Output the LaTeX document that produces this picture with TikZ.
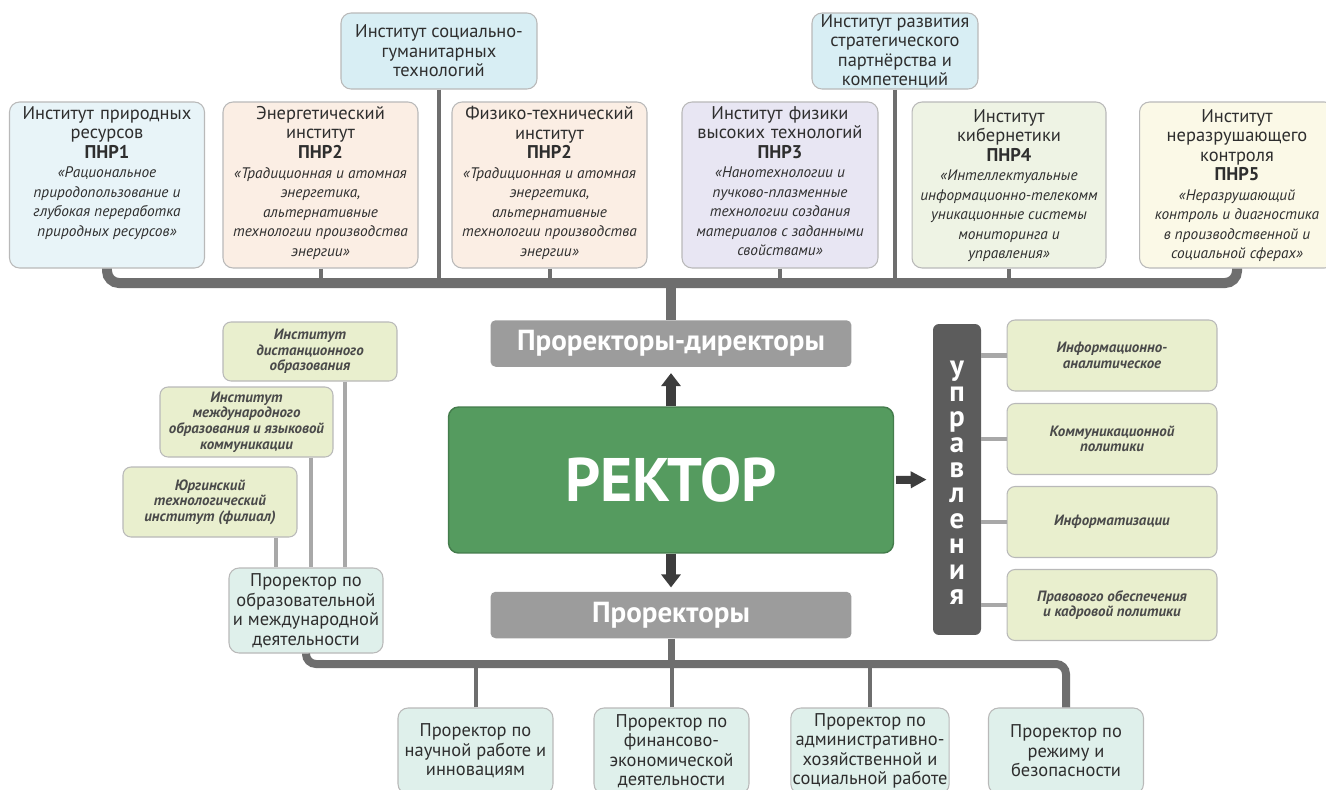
\documentclass[tikz,border=0pt]{standalone}
\usepackage{fontspec}
\setmainfont{PT Sans}
\usetikzlibrary{arrows.meta}

\definecolor{busgray}{HTML}{6E6E6E}
\definecolor{lngray}{HTML}{A8A8A8}
\definecolor{arrgray}{HTML}{3D3D3D}
\definecolor{boxline}{HTML}{B9B9B9}
\definecolor{prgray}{HTML}{9C9C9C}
\definecolor{uprgray}{HTML}{5C5C5C}
\definecolor{rekgreen}{HTML}{559B5F}
\definecolor{fblue}{HTML}{E8F4F8}
\definecolor{fsky}{HTML}{D8EEF4}
\definecolor{fpeach}{HTML}{FBEEE4}
\definecolor{flav}{HTML}{E8E6F3}
\definecolor{fgreen}{HTML}{EEF3E4}
\definecolor{fcream}{HTML}{FBF9E7}
\definecolor{folive}{HTML}{E9EFCE}
\definecolor{fmint}{HTML}{DFF0EB}
\definecolor{txtgray}{HTML}{2E2E2E}
\definecolor{ittgray}{HTML}{4A4A4A}

\newcommand{\ttlfont}{\fontsize{10.5}{11.1}\selectfont}
\newcommand{\thmfont}{\fontsize{8.7}{11.1}\selectfont\itshape\spaceskip=0.27em\relax}
\newcommand{\subfont}{\fontsize{8.5}{8.9}\selectfont\bfseries\itshape}
\newcommand{\grpfont}{\fontsize{16.5}{18}\selectfont\bfseries}

\begin{document}
\begin{tikzpicture}[x=0.02cm, y=-0.02cm,
    box/.style={draw=boxline, line width=0.6pt, rounded corners=0.2cm,
                inner sep=1pt, align=center},
    inst/.style={box, minimum width=3.9cm, minimum height=3.32cm},
    itxt/.style={anchor=north, inner sep=0pt, align=center, text width=3.85cm,
                 text=txtgray, font=\ttlfont},
    subbox/.style={box, fill=folive, rounded corners=0.16cm, text=ittgray,
                   font=\subfont},
    vpbox/.style={box, fill=fmint, minimum width=3.1cm, minimum height=1.72cm,
                  text=txtgray, font=\ttlfont},
    grp/.style={fill=prgray, rounded corners=0.1cm, minimum width=7.22cm,
                minimum height=0.93cm, text=white, font=\grpfont},
    rek/.style={fill=rekgreen, draw=rekgreen!80!black, line width=0.8pt,
                rounded corners=0.2cm, minimum width=8.9cm, minimum height=2.92cm,
                text=white, font=\fontsize{35}{38}\selectfont\bfseries},
    ulet/.style={text=white, inner sep=0pt, align=center,
                 font=\fontsize{16.5}{14.5}\selectfont\bfseries},
    bus/.style={draw=busgray, line width=0.2cm, rounded corners=0.24cm},
    tline/.style={draw=busgray, line width=0.08cm},
    lline/.style={draw=lngray, line width=0.09cm},
    arr/.style={draw=arrgray, line width=0.2cm,
                -{Triangle[width=0.38cm,length=0.26cm]}}]

  \clip (0,0) rectangle (1326,789);
  \fill[white] (0,0) rectangle (1326,789);

  % institutes
  \node[inst, fill=fblue] (b1) at (107,185) {};
  \node[inst, fill=fpeach] (b2) at (320.5,185) {};
  \node[inst, fill=fpeach] (b3) at (549.5,185) {};
  \node[inst, fill=flav, minimum width=3.92cm] (b4) at (780,185) {};
  \node[inst, fill=fgreen, minimum width=3.88cm] (b5) at (1009,185) {};
  \node[inst, fill=fcream] (b6) at (1237,185) {};

  \node[itxt] (t1) at (107,106) {Институт природных\\ресурсов\\\textbf{ПНР1}\\
    \thmfont «Рациональное\\природопользование и\\глубокая переработка\\природных ресурсов»};
  \node[itxt] (t2) at (320.5,106) {Энергетический\\институт\\\textbf{ПНР2}\\
    \thmfont «Традиционная и атомная\\энергетика,\\альтернативные\\технологии производства\\энергии»};
  \node[itxt] (t3) at (549.5,106) {Физико-технический\\институт\\\textbf{ПНР2}\\
    \thmfont «Традиционная и атомная\\энергетика,\\альтернативные\\технологии производства\\энергии»};
  \node[itxt] (t4) at (780,106) {Институт физики\\высоких технологий\\\textbf{ПНР3}\\
    \thmfont «Нанотехнологии и\\пучково-плазменные\\технологии создания\\материалов с заданными\\свойствами»};
  \node[itxt] (t5) at (1009,109) {Институт\\кибернетики\\\textbf{ПНР4}\\
    \thmfont «Интеллектуальные\\информационно-телекомм\\уникационные системы\\мониторинга и\\управления»};
  \node[itxt] (t6) at (1237,109) {Институт\\неразрушающего\\контроля\\\textbf{ПНР5}\\
    \thmfont «Неразрушающий\\контроль и диагностика\\в производственной и\\социальной сферах»};

  \node[box, fill=fsky, minimum width=3.92cm, minimum height=1.52cm,
        text=txtgray, font=\ttlfont] (s1) at (439,51)
        {Институт социально-\\гуманитарных\\технологий};
  \node[box, fill=fsky, minimum width=3.32cm, minimum height=1.52cm,
        inner sep=0pt, text=txtgray, font=\ttlfont] (s2) at (895,51)
        {Институт развития\\стратегического\\партнёрства и\\компетенций};

  \coordinate (tbus) at (671,283);
  \foreach \a in {b2,b3,b4,b5,s1,s2} {
    \draw[tline] (\a.south) -- (\a.south |- tbus);
  }
  \draw[bus] (b1.south) |- (tbus) -| (b6.south);

  % centre
  \node[grp] (prd) at (671,343.5) {Проректоры-директоры};
  \node[rek] (rek) at (671,480) {РЕКТОР};
  \node[grp] (pr) at (671,615) {Проректоры};
  \draw[bus] (tbus) -- (prd.north);
  \draw[arr, shorten >=0.12cm] (rek.north) -- (prd.south);
  \draw[arr, shorten >=0.08cm] (rek.south) -- (pr.north);

  % departments
  \node[fill=uprgray, rounded corners=0.12cm, minimum width=0.96cm,
        minimum height=6.22cm] (upr) at (957,479.5) {};
  \node[ulet] (ulab) at (957,483) {у\\п\\р\\а\\в\\л\\е\\н\\и\\я};
  \draw[arr, line width=0.16cm, shorten <=0.04cm, shorten >=0.12cm,
        -{Triangle[width=0.32cm,length=0.32cm]}] (rek.east) -- (upr.west);

  \node[subbox, minimum width=4.2cm, minimum height=1.42cm] (r1) at (1112,355.5)
        {Информационно-\\аналитическое};
  \node[subbox, minimum width=4.2cm, minimum height=1.42cm] (r2) at (1112,439)
        {Коммуникационной\\политики};
  \node[subbox, minimum width=4.2cm, minimum height=1.42cm] (r3) at (1112,522)
        {Информатизации};
  \node[subbox, minimum width=4.2cm, minimum height=1.42cm] (r4) at (1112,605)
        {Правового обеспечения\\и кадровой политики};
  \foreach \a in {r1,r2,r3,r4} {
    \draw[lline] (\a.west) -- (\a.west -| upr.east);
  }

  % education
  \node[subbox, minimum width=3.48cm, minimum height=1.18cm] (l1) at (310,351.5)
        {Институт\\дистанционного\\образования};
  \node[subbox, minimum width=3.46cm, minimum height=1.4cm] (l2) at (246.5,422)
        {Институт\\международного\\образования и языковой\\коммуникации};
  \node[subbox, minimum width=3.48cm, minimum height=1.4cm] (l3) at (210,502)
        {Юргинский\\технологический\\институт (филиал)};
  \node[vpbox, minimum width=3.08cm, minimum height=1.7cm] (edu) at (306,610.5)
        {Проректор по\\образовательной\\и международной\\деятельности};
  \foreach \a/\x in {l1/345, l2/311, l3/276} {
    \draw[lline] (\a.south -| \x,0) -- (edu.north -| \x,0);
  }

  % vice-rectors
  \node[vpbox] (p1) at (475.5,751) {Проректор по\\научной работе и\\инновациям};
  \node[vpbox] (p2) at (671.5,751) {Проректор по\\финансово-\\экономической\\деятельности};
  \node[vpbox] (p3) at (870,751) {Проректор по\\административно-\\хозяйственной и\\социальной работе};
  \node[vpbox] (p4) at (1066,751) {Проректор по\\режиму и\\безопасности};

  \coordinate (bbus) at (671,664);
  \draw[bus, line width=0.14cm] (pr.south) -- (bbus);
  \foreach \a in {p1,p2,p3} {
    \draw[tline] (\a.north) -- (\a.north |- bbus);
  }
  \draw[bus, line width=0.16cm, rounded corners=0.2cm] (edu.south) |- (bbus) -| (p4.north);
\end{tikzpicture}
\end{document}
